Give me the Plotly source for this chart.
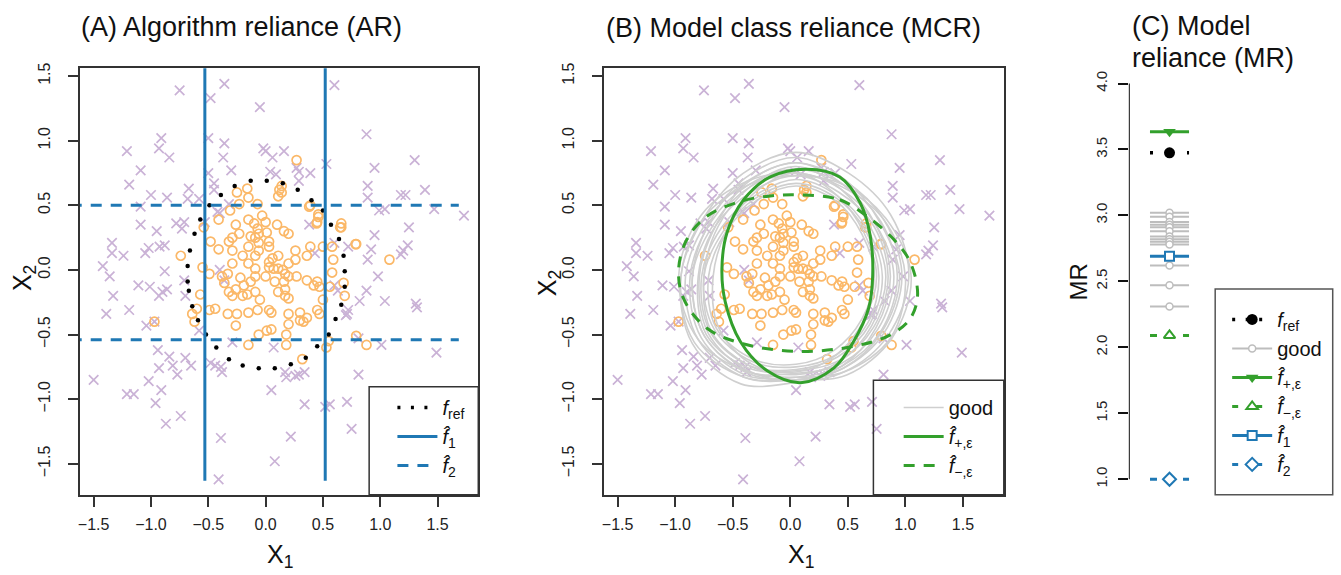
import numpy as np
import plotly.graph_objects as go

W, H = 1341, 575
FONT = "Liberation Sans, Arial, Helvetica, sans-serif"


def px(x):
    return x / W


def py(y):
    return 1 - y / H


# ---------------- data ----------------
# class "x" points (purple crosses)
X_CROSS = [0.60, -0.36, -0.75, -0.48, -0.05, -0.50, -0.91, -1.21, -0.93, -0.84,
           -1.09, -1.19, -1.00, -0.86, -1.09, -0.78, -0.71, -1.09, -0.36, -0.37,
           -0.30, -0.50, -0.45, -0.67, -0.68, -0.58, -0.45, -0.40, -0.02, 0.00,
           0.06, 0.16, 0.04, 0.09, 0.27, 0.39, 0.53, 0.88, 1.30, 0.95,
           0.89, 0.89, 1.18, 1.22, 1.39, 0.99, 1.04, 1.47, 1.73, 0.95,
           1.25, 1.24, 1.18, 0.89, 0.98, 0.88, 1.04, 1.31, 1.32, 0.82,
           0.72, 0.71, 0.81, 1.01, 1.49, 0.81, 0.71, 0.75, 0.52, 0.34,
           0.22, 0.08, -0.39, -0.41, 0.05, 0.07, 0.17, 0.18, 0.29, 0.34,
           -1.50, -1.42, -1.36, -1.34, -1.34, -1.24, -1.39, -1.33, -1.19, -1.11,
           -1.05, -1.02, -1.01, -0.925, -0.88, -0.88, -0.93, -0.90, -0.86, -0.70,
           -0.71, -1.04, -0.97, -0.94, -0.84, -0.81, -0.77, -0.70, -0.65, -0.93,
           -1.02, -0.96, -0.87, -0.74, -1.21, -1.15, -0.91, -0.48, -0.44, -0.39,
           -0.38, -0.53, -0.42, -0.32, 0.43, 0.63, 0.60, 0.56, -0.73, -0.95,
           0.60, 0.72, 0.26, -0.29, -0.40, -0.36, 0.38, 0.29, 0.29, 0.92,
           1.20, -0.58, 0.70]
Y_CROSS = [1.43, 1.44, 1.39, 1.33, 1.26, 1.02, 1.02, 0.92, 0.94, 0.87,
           0.77, 0.66, 0.58, 0.56, 0.49, 0.36, 0.37, 0.35, 0.98, 0.87,
           0.77, 0.75, 0.67, 0.63, 0.55, 0.55, 0.62, 0.44, 0.94, 0.92,
           0.87, 0.92, 0.76, 0.74, 0.79, 0.75, 0.82, 1.05, 0.85, 0.79,
           0.65, 0.56, 0.58, 0.58, 0.62, 0.46, 0.47, 0.47, 0.42, 0.27,
           0.33, 0.19, 0.12, 0.08, -0.05, -0.16, -0.24, -0.26, -0.29, -0.24,
           -0.31, -0.34, -0.53, -0.58, -0.64, -0.81, -1.02, -1.23, -1.06, -1.04,
           -1.29, -1.48, -1.30, -1.62, -0.93, -0.60, -0.79, -0.83, -0.81, -0.79,
           -0.85, 0.03, -0.05, 0.21, 0.13, 0.11, -0.34, -0.20, -0.31, -0.12,
           0.13, 0.17, -0.13, 0.18, 0.19, -0.01, -0.20, -0.17, -0.15, -0.20,
           -0.08, -0.43, -0.40, -0.62, -0.67, -0.74, -0.81, -0.68, -0.74, -0.76,
           -0.86, -1.03, -1.19, -1.13, -0.96, -0.96, -0.93, -0.72, -0.74, -0.75,
           -0.79, 0.37, 0.45, 0.51, 0.13, -0.16, -0.12, -1.04, 0.32, 0.30,
           0.21, 0.18, -0.82, -0.56, 0.00, -0.08, 0.35, 0.76, 0.69, 0.16,
           0.15, -0.47, -0.35]

# class "o" points (orange circles)
X_CIRC = [0.27, 0.14, 0.11, -0.16, -0.15, -0.25, -0.23, -0.07, -0.31, -0.54,
          -0.48, -0.74, -0.55, -0.49, -0.57, -0.60, -0.64, -0.62, -0.97, -0.49,
          -0.44, -0.33, -0.25, -0.26, -0.15, -0.07, 0.03, 0.05, 0.20, 0.30,
          0.33, 0.30, 0.36, 0.45, 0.47, 0.50, 0.47, 0.45, 0.42, 0.36,
          0.27, 0.20, 0.17, 0.16, 0.17, 0.17, 0.20, 0.11, 0.11, 0.07,
          0.03, 0.03, 0.06, 0.11, 0.03, -0.06, -0.15, -0.20, -0.29, -0.29,
          -0.32, -0.13, -0.09, -0.06, -0.07, 0.01, 0.03, -0.06, 0.00, -0.03,
          -0.10, -0.15, 0.10, 0.16, 0.20, 0.39, 0.36, 0.26, 0.26, 0.20,
          0.45, 0.46, 0.39, 0.50, 0.58, 0.59, 0.58, 0.56, 0.66, 0.66,
          0.79, 1.08, 0.68, 0.69, 0.53, 0.55, 0.79, 0.88, 0.32, 0.18,
          0.18, 0.20, 0.05, 0.01, -0.06, -0.15, -0.32, -0.36, -0.33, -0.29,
          -0.22, -0.19, -0.13, -0.09, 0.00, -0.26, -0.29, -0.20, -0.16, -0.09,
          -0.05, -0.38, -0.41, -0.09, -0.15, -0.09, -0.41, -0.26, -0.23, 0.08,
          0.12, 0.14, 0.38, 0.46, 0.445, 0.65, 0.785, 0.15]
Y_CIRC = [0.85, 0.65, 0.57, 0.63, 0.56, 0.60, 0.51, 0.51, 0.46, 0.33,
          0.22, 0.11, 0.02, -0.03, -0.19, -0.30, -0.34, -0.40, -0.40, -0.31,
          -0.30, -0.34, -0.34, -0.43, -0.33, -0.31, -0.31, -0.33, -0.34, -0.33,
          -0.40, -0.39, -0.37, -0.31, -0.34, -0.23, -0.13, -0.09, -0.12, -0.08,
          -0.05, -0.05, -0.03, -0.09, -0.15, -0.20, -0.22, -0.17, 0.01, 0.01,
          0.02, 0.06, 0.09, 0.11, 0.18, 0.15, 0.18, 0.11, 0.15, 0.25,
          0.22, 0.26, 0.25, 0.28, 0.32, 0.29, 0.22, 0.21, 0.37, 0.42,
          0.36, 0.39, 0.35, 0.30, 0.28, 0.18, 0.11, 0.15, 0.08, 0.05,
          0.37, 0.43, 0.50, 0.18, 0.18, 0.08, -0.02, -0.13, 0.33, 0.36,
          0.20, 0.08, -0.10, -0.20, -0.60, -0.55, -0.51, -0.58, -0.69, -0.58,
          -0.50, -0.42, -0.46, -0.47, -0.50, -0.58, -0.17, -0.10, -0.03, 0.05,
          -0.06, -0.12, -0.09, -0.05, -0.05, -0.15, -0.20, -0.20, -0.19, -0.17,
          -0.23, -0.05, 0.39, 0.11, 0.05, 0.01, 0.16, 0.35, 0.28, -0.09,
          0.62, 0.60, 0.49, 0.41, 0.36, 0.33, 0.20, 0.0]

# reference model decision boundary (dotted, panel A)
X_REF = [-0.27, -0.13, 0.01, 0.15, 0.28, 0.40, 0.50, 0.57, 0.64, 0.68,
         0.69, 0.69, 0.66, 0.61, 0.55, 0.45, 0.35, 0.22, 0.08, -0.06,
         -0.20, -0.32, -0.43, -0.52, -0.59, -0.64, -0.67, -0.68, -0.68, -0.66,
         -0.62, -0.57, -0.49, -0.39]
Y_REF = [0.65, 0.69, 0.69, 0.67, 0.62, 0.54, 0.46, 0.35, 0.24, 0.11,
         -0.01, -0.13, -0.27, -0.38, -0.50, -0.59, -0.68, -0.73, -0.76, -0.76,
         -0.74, -0.69, -0.60, -0.50, -0.39, -0.28, -0.16, -0.09, 0.03, 0.15,
         0.28, 0.39, 0.50, 0.58]

# model f1 (vertical splits on X1) and f2 (horizontal splits on X2)
F1_X1_SPLITS = [-0.53, 0.52]
F1_X2_EXTENT = [-1.63, 1.70]
F2_X2_SPLITS = [0.50, -0.54]
F2_X1_EXTENT = [-1.70, 1.685]

# panel B boundaries
X_FPLUS = [0.145, 0.43, 0.608, 0.695, 0.716, 0.68, 0.55, 0.38, 0.09, -0.20,
           -0.434, -0.565, -0.594, -0.55, -0.405, -0.174, 0.145]
Y_FPLUS = [0.78, 0.72, 0.518, 0.263, -0.043, -0.298, -0.553, -0.757, -0.872, -0.78,
           -0.553, -0.247, 0.008, 0.288, 0.543, 0.72, 0.78]
X_FMINUS = [0.087, 0.43, 0.666, 0.898, 1.043, 1.106, 1.043, 0.869, 0.55, 0.087,
            -0.376, -0.724, -0.927, -0.97, -0.898, -0.724, -0.434, -0.174, 0.087]
Y_FMINUS = [0.581, 0.543, 0.416, 0.237, 0.059, -0.196, -0.375, -0.502, -0.591, -0.63,
            -0.579, -0.451, -0.222, 0.008, 0.237, 0.416, 0.53, 0.573, 0.581]

# "good" models: boundary radius read at fixed angles around centre (0.05, -0.05)
GOOD_CENTER = (0.05, -0.05)
GOOD_ANGLES_DEG = [0, 30, 60, 90, 120, 150, 180, 210, 240, 270, 300, 330]
GOOD_RADII = [
    [0.98, 0.95, 0.92, 0.96, 0.92, 0.92, 1.00, 1.04, 0.96, 0.82, 0.85, 0.92],
    [0.92, 0.88, 0.85, 0.88, 0.85, 0.88, 0.96, 0.98, 0.90, 0.80, 0.82, 0.88],
    [0.88, 0.85, 0.82, 0.83, 0.82, 0.85, 0.92, 0.95, 0.88, 0.78, 0.80, 0.85],
    [0.85, 0.80, 0.78, 0.80, 0.80, 0.82, 0.90, 0.92, 0.85, 0.75, 0.78, 0.82],
    [0.80, 0.78, 0.75, 0.78, 0.76, 0.80, 0.85, 0.90, 0.82, 0.73, 0.75, 0.78],
    [0.78, 0.75, 0.78, 0.85, 0.80, 0.78, 0.80, 0.85, 0.80, 0.76, 0.76, 0.76],
    [0.75, 0.72, 0.72, 0.75, 0.72, 0.75, 0.82, 0.86, 0.80, 0.72, 0.72, 0.74],
    [0.72, 0.70, 0.70, 0.72, 0.70, 0.72, 0.80, 0.82, 0.76, 0.70, 0.70, 0.72],
    [0.95, 0.88, 0.80, 0.80, 0.85, 0.95, 1.02, 0.98, 0.85, 0.78, 0.85, 0.95],
    [0.70, 0.68, 0.72, 0.80, 0.74, 0.70, 0.72, 0.78, 0.78, 0.74, 0.70, 0.68],
    [0.90, 0.84, 0.86, 0.92, 0.88, 0.86, 0.90, 0.92, 0.86, 0.80, 0.82, 0.86],
    [0.82, 0.80, 0.82, 0.88, 0.84, 0.80, 0.84, 0.88, 0.84, 0.80, 0.80, 0.80],
    [0.68, 0.66, 0.68, 0.70, 0.68, 0.70, 0.76, 0.80, 0.74, 0.68, 0.66, 0.66],
    [1.00, 0.90, 0.82, 0.78, 0.82, 0.92, 1.00, 1.02, 0.90, 0.80, 0.88, 0.96],
]

# panel C model reliance values
MR_REF = 3.475
MR_GOOD = [3.02, 2.99, 2.95, 2.93, 2.91, 2.88, 2.84, 2.82, 2.80, 2.78, 2.62, 2.47, 2.31]
MR_FPLUS = 3.635
MR_FMINUS = 2.09
MR_F1 = 2.69
MR_F2 = 1.00

XY_TICKS = [-1.5, -1.0, -0.5, 0.0, 0.5, 1.0, 1.5]
XY_TICKTEXT = ["\u22121.5", "\u22121.0", "\u22120.5", "0.0", "0.5", "1.0", "1.5"]
MR_TICKS = [1.0, 1.5, 2.0, 2.5, 3.0, 3.5, 4.0]
MR_TICKTEXT = ["1.0", "1.5", "2.0", "2.5", "3.0", "3.5", "4.0"]

# ---------------- colours ----------------
PURPLE = "#CAB2D6"
ORANGE = "#FBB868"
BLUE = "#1F78B4"
GREEN = "#33A02C"
GRAY = "#CFCFCF"
GRAY_C = "#BDBDBD"
BOX = "#333333"

fig = go.Figure()


def add_points(xa, ya):
    fig.add_trace(go.Scatter(x=X_CROSS, y=Y_CROSS, mode="markers", xaxis=xa, yaxis=ya,
                             marker=dict(symbol="x-thin", size=9.5,
                                         line=dict(color=PURPLE, width=1.7)),
                             showlegend=False, hoverinfo="skip"))
    fig.add_trace(go.Scatter(x=X_CIRC, y=Y_CIRC, mode="markers", xaxis=xa, yaxis=ya,
                             marker=dict(symbol="circle-open", size=9,
                                         color=ORANGE, line=dict(width=1.7)),
                             showlegend=False, hoverinfo="skip"))


# ----- panel A -----
add_points("x", "y")
vx, vy = [], []
for s in F1_X1_SPLITS:
    vx += [s, s, None]
    vy += [F1_X2_EXTENT[0], F1_X2_EXTENT[1], None]
hx, hy = [], []
for s in F2_X2_SPLITS:
    hx += [F2_X1_EXTENT[0], F2_X1_EXTENT[1], None]
    hy += [s, s, None]

fig.add_trace(go.Scatter(x=X_REF, y=Y_REF, mode="markers", xaxis="x", yaxis="y",
                         marker=dict(color="black", size=4.5), showlegend=False,
                         hoverinfo="skip"))
fig.add_trace(go.Scatter(x=[None], y=[None], mode="lines", xaxis="x", yaxis="y",
                         line=dict(color="black", width=3.5, dash="3px,10.5px"),
                         name="<i>f</i><sub>ref</sub>", legend="legend"))
fig.add_trace(go.Scatter(x=vx, y=vy, mode="lines", xaxis="x", yaxis="y",
                         line=dict(color=BLUE, width=3),
                         name="<i>f\u0302</i><sub>1</sub>", legend="legend"))
fig.add_trace(go.Scatter(x=hx, y=hy, mode="lines", xaxis="x", yaxis="y",
                         line=dict(color=BLUE, width=3, dash="11px,9px"),
                         name="<i>f\u0302</i><sub>2</sub>", legend="legend"))

# ----- panel B -----
add_points("x2", "y2")
ang = np.deg2rad(GOOD_ANGLES_DEG + [GOOD_ANGLES_DEG[0]])
gx, gy = [], []
for radii in GOOD_RADII:
    r = np.array(radii + [radii[0]])
    gx += list(GOOD_CENTER[0] + r * np.cos(ang)) + [None]
    gy += list(GOOD_CENTER[1] + r * np.sin(ang)) + [None]
fig.add_trace(go.Scatter(x=gx, y=gy, mode="lines", xaxis="x2", yaxis="y2",
                         line=dict(color=GRAY, width=1.6, shape="spline", smoothing=1.0),
                         name="good", legend="legend2", hoverinfo="skip"))
fig.add_trace(go.Scatter(x=X_FPLUS, y=Y_FPLUS, mode="lines", xaxis="x2", yaxis="y2",
                         line=dict(color=GREEN, width=3, shape="spline", smoothing=1.0),
                         name="<i>f\u0302</i><sub>+,\u03b5</sub>", legend="legend2"))
fig.add_trace(go.Scatter(x=X_FMINUS, y=Y_FMINUS, mode="lines", xaxis="x2", yaxis="y2",
                         line=dict(color=GREEN, width=3, dash="11px,9px", shape="spline",
                                   smoothing=1.0),
                         name="<i>f\u0302</i><sub>\u2212,\u03b5</sub>", legend="legend2"))

# ----- panel C -----
SEG = [0.76, 1.24]


def c_entry(value_list, name, line, marker, seg_line):
    sx, sy = [], []
    for v in value_list:
        sx += [SEG[0], SEG[1], None]
        sy += [v, v, None]
    fig.add_trace(go.Scatter(x=sx, y=sy, mode="lines", xaxis="x3", yaxis="y3",
                             line=seg_line, showlegend=False, hoverinfo="skip"))
    mx, my = [], []
    for v in value_list:
        mx += [1, None]
        my += [v, None]
    fig.add_trace(go.Scatter(x=mx, y=my, mode="lines+markers", xaxis="x3", yaxis="y3",
                             line=line, marker=marker, name=name, legend="legend3",
                             cliponaxis=False))


c_entry([MR_REF], "<i>f</i><sub>ref</sub>",
        dict(color="black", width=3.5, dash="3px,10.5px"),
        dict(symbol="circle", size=11, color="black"),
        dict(color="black", width=3.5, dash="3px,15.5px"))
c_entry(MR_GOOD, "good",
        dict(color=GRAY_C, width=2),
        dict(symbol="circle", size=7, color="white", line=dict(color=GRAY_C, width=1.5)),
        dict(color=GRAY_C, width=2))
c_entry([MR_FPLUS], "<i>f\u0302</i><sub>+,\u03b5</sub>",
        dict(color=GREEN, width=3),
        dict(symbol="triangle-down", size=11, color=GREEN),
        dict(color=GREEN, width=3))
c_entry([MR_FMINUS], "<i>f\u0302</i><sub>\u2212,\u03b5</sub>",
        dict(color=GREEN, width=3, dash="6px,18px"),
        dict(symbol="triangle-up", size=10, color="white", line=dict(color=GREEN, width=2)),
        dict(color=GREEN, width=3, dash="7px,26px"))
c_entry([MR_F1], "<i>f\u0302</i><sub>1</sub>",
        dict(color=BLUE, width=3),
        dict(symbol="square", size=9, color="white", line=dict(color=BLUE, width=2)),
        dict(color=BLUE, width=3))
c_entry([MR_F2], "<i>f\u0302</i><sub>2</sub>",
        dict(color=BLUE, width=3, dash="6px,18px"),
        dict(symbol="diamond", size=10, color="white", line=dict(color=BLUE, width=2)),
        dict(color=BLUE, width=3, dash="7px,26px"))

# ---------------- layout ----------------
Y_DOM = [py(494), py(63)]
common = dict(showline=True, mirror=True, linecolor=BOX, linewidth=1.5,
              ticks="outside", ticklen=10, tickwidth=1.5, tickcolor=BOX,
              tickvals=XY_TICKS, ticktext=XY_TICKTEXT, showgrid=False, zeroline=False,
              tickfont=dict(size=16, family=FONT, color="#222"))
xr = [-1.62, 1.855]
yr = [-1.74, 1.56]

fig.update_layout(
    width=W, height=H, margin=dict(l=0, r=0, t=0, b=0),
    paper_bgcolor="white", plot_bgcolor="white",
    font=dict(family=FONT, color="#111"),
    xaxis=dict(domain=[px(78), px(477)], range=xr, anchor="y", ticklabelstandoff=4, **common),
    yaxis=dict(domain=Y_DOM, range=yr, anchor="x", tickangle=-90, ticklabelstandoff=12,
               **common),
    xaxis2=dict(domain=[px(602.7), px(1003.3)], range=xr, anchor="y2", ticklabelstandoff=4,
                **common),
    yaxis2=dict(domain=Y_DOM, range=yr, anchor="x2", tickangle=-90, ticklabelstandoff=12,
                **common),
    xaxis3=dict(domain=[px(1128.5), px(1210)], range=[0.5, 1.5], anchor="y3",
                visible=False, showgrid=False, zeroline=False),
    yaxis3=dict(domain=[py(491.6), py(65)], range=[0.9, 4.1], anchor="x3",
                showline=False, showgrid=False, zeroline=False, ticks="outside",
                ticklen=10, tickwidth=1.5, tickcolor="#111",
                tickvals=MR_TICKS, ticktext=MR_TICKTEXT, tickangle=-90,
                ticklabelstandoff=5, tickfont=dict(size=15, family=FONT, color="#222")),
    legend=dict(x=px(391), y=py(386), xanchor="left", yanchor="top",
                bgcolor="rgba(0,0,0,0)", borderwidth=0, itemwidth=40,
                font=dict(size=20, family=FONT, color="#111"), traceorder="normal"),
    legend2=dict(x=px(898), y=py(386), xanchor="left", yanchor="top",
                 bgcolor="rgba(0,0,0,0)", borderwidth=0, itemwidth=40,
                 font=dict(size=20, family=FONT, color="#111"), traceorder="normal"),
    legend3=dict(x=px(1227), y=py(297), xanchor="left", yanchor="top",
                 bgcolor="rgba(0,0,0,0)", borderwidth=0, itemwidth=40,
                 font=dict(size=20, family=FONT, color="#111"), traceorder="normal"),
    showlegend=True,
)

shapes = [
    dict(type="rect", xref="paper", yref="paper", x0=px(367.7), x1=px(477),
         y0=py(494), y1=py(384.7), line=dict(color=BOX, width=1.5)),
    dict(type="rect", xref="paper", yref="paper", x0=px(872.7), x1=px(1003.3),
         y0=py(494), y1=py(378.3), line=dict(color=BOX, width=1.5)),
    dict(type="rect", xref="paper", yref="paper", x0=px(1215), x1=px(1332.7),
         y0=py(494), y1=py(286), line=dict(color="#555", width=1.5)),
    dict(type="line", xref="x3", yref="y3", x0=0.5, x1=0.5, y0=1.0, y1=4.0,
         line=dict(color="#111", width=2)),
]
fig.update_layout(shapes=shapes)

ann = []


def text(x, y, s, size, anchor="center", angle=0):
    ann.append(dict(x=px(x), y=py(y), xref="paper", yref="paper", text=s, showarrow=False,
                    xanchor=anchor, yanchor="middle", textangle=angle,
                    font=dict(size=size, family=FONT, color="#111")))


text(77, 21, "(A) Algorithm reliance (AR)", 27, "left")
text(603, 22, "(B) Model class reliance (MCR)", 27, "left")
text(1130, 20, "(C) Model", 27, "left")
text(1130, 53, "reliance (MR)", 27, "left")
text(278, 556, "X<sub>1</sub>", 25)
text(800, 556, "X<sub>1</sub>", 25)
text(22, 275, "X<sub>2</sub>", 25, angle=-90)
text(548, 280, "X<sub>2</sub>", 25, angle=-90)
text(1078, 279, "MR", 24, angle=-90)
fig.update_layout(annotations=ann)

fig.write_html(
    "out.html",
    config={"displayModeBar": False, "staticPlot": False},
    post_script="document.body.style.margin='0';document.body.style.padding='0';"
                "document.body.style.overflow='hidden';",
)
